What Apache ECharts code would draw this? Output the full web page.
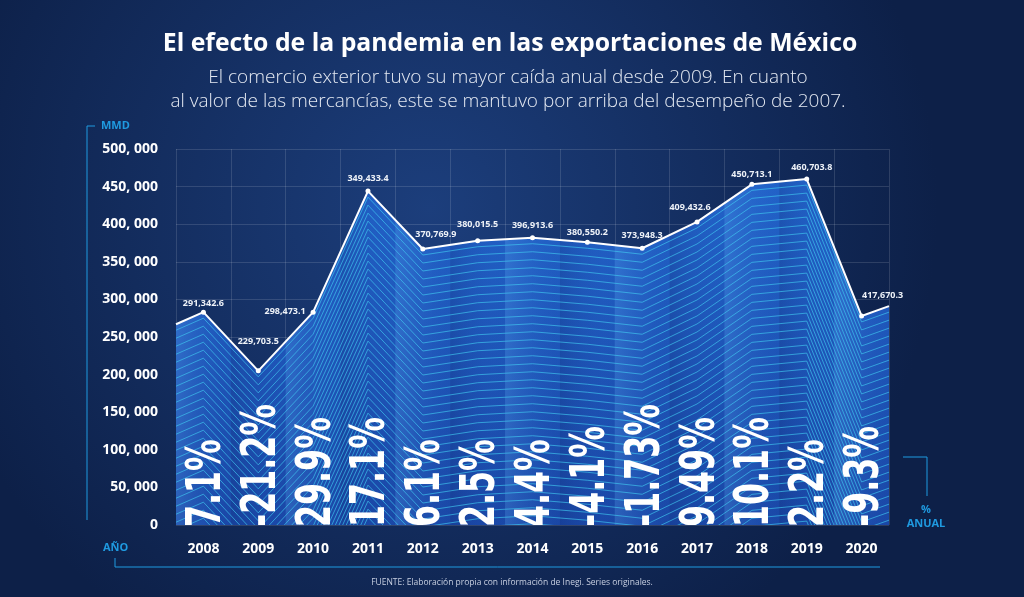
<!DOCTYPE html>
<html>
<head>
<meta charset="utf-8">
<script src="https://cdn.jsdelivr.net/npm/echarts@6/dist/echarts.min.js"></script>
<style>
html,body{margin:0;padding:0;background:#132b5e;}
#chart{width:1024px;height:597px;}
</style>
</head>
<body>
<div id="chart"></div>
<script>
// ---- data ----
const years = ['2008','2009','2010','2011','2012','2013','2014','2015','2016','2017','2018','2019','2020'];
// plotted level of the line (as drawn in the picture)
const exportLevels = [283000, 205000, 283000, 444000, 367000, 378000, 382000, 376000, 368000, 403000, 453000, 460000, 278000];
// where the line meets the left and right edges of the plot
const edgeLevels = [267000, 291000];
// value labels printed next to each point (MMD)
const valueLabels = ['291,342.6','229,703.5','298,473.1','349,433.4','370,769.9','380,015.5','396,913.6','380,550.2','373,948.3','409,432.6','450,713.1','460,703.8','417,670.3'];
// annual % change printed vertically in each column
const annualPct = ['7.1%','-21.2%','29.9%','17.1%','6.1%','2.5%','4.4%','-4.1%','-1.73%','9.49%','10.1%','2.2%','-9.3%'];
const yMin = 0, yMax = 500000, yStep = 50000;

// ---- styling (not data) ----
const labelOffsets = [[0,3],[0,-17],[-28,11],[0,-1],[13,-3],[0,-4],[0,0],[0,2],[0,-1],[-7,-3],[0,2],[5,0],[21,-9]];
const cyan = '#1f9ae0';
const linePoints = [[-0.5, edgeLevels[0]]]
  .concat(years.map((y, i) => [i, exportLevels[i]]))
  .concat([[years.length - 0.5, edgeLevels[1]]]);

const chart = echarts.init(document.getElementById('chart'), null, {renderer: 'canvas'});

function stripes(params, api) {
  if (params.dataIndex !== 0) return null;
  const pts = linePoints.map(d => api.coord(d));
  const base = api.coord([0, 0])[1];
  const children = [];
  const mid = (a, b) => [(a[0] + b[0]) / 2, (a[1] + b[1]) / 2];
  for (let i = 0; i < years.length; i++) {
    const L = i === 0 ? pts[0] : mid(pts[i], pts[i + 1]);
    const R = i === years.length - 1 ? pts[pts.length - 1] : mid(pts[i + 1], pts[i + 2]);
    const strong = i % 2 === 0;
    children.push({
      type: 'polygon',
      silent: true,
      shape: {points: [L, pts[i + 1], R, [R[0], base], [L[0], base]]},
      style: {
        fill: new echarts.graphic.LinearGradient(0, 0, 1, 0, [
          {offset: 0, color: strong ? 'rgba(110,190,255,0.22)' : 'rgba(10,30,90,0.18)'},
          {offset: 1, color: 'rgba(40,110,220,0.0)'}
        ])
      }
    });
  }
  for (let k = 0; k < 48; k++) {
    const dy = 6 + k * 8;
    children.push({
      type: 'polyline',
      silent: true,
      shape: {points: pts.map(p => [p[0], p[1] + dy])},
      style: {stroke: 'rgba(64,200,240,0.66)', lineWidth: 1, fill: null}
    });
  }
  return {type: 'group', children: children};
}

function pctText(params, api) {
  const p = api.coord([api.value(0), api.value(1)]);
  return {
    type: 'text',
    silent: true,
    x: p[0] + 4,
    y: p[1] + 2,
    rotation: Math.PI / 2,
    scaleX: 0.66,
    scaleY: 1,
    style: {
      text: annualPct[params.dataIndex],
      fill: '#ffffff',
      font: "bold 48px 'DejaVu Sans', sans-serif",
      align: 'left',
      verticalAlign: 'middle'
    }
  };
}

const option = {
  backgroundColor: {
    type: 'radial', x: 0.42, y: 0.35, r: 0.85,
    colorStops: [{offset: 0, color: '#1c3e7c'}, {offset: 1, color: '#0d2048'}]
  },
  animation: false,
  grid: {left: 176, right: 135, top: 149, bottom: 72},
  xAxis: [
    {
      type: 'category',
      data: years,
      boundaryGap: true,
      axisLine: {show: false},
      axisTick: {show: false},
      axisLabel: {color: '#ffffff', fontSize: 14, fontWeight: 'bold', fontFamily: 'Open Sans', margin: 17},
      splitLine: {show: true, lineStyle: {color: 'rgba(255,255,255,0.13)', width: 1}}
    },
    {
      type: 'value',
      min: -0.5, max: years.length - 0.5,
      show: false
    }
  ],
  yAxis: {
    type: 'value',
    min: yMin, max: yMax, interval: yStep,
    axisLine: {show: false},
    axisTick: {show: false},
    axisLabel: {
      color: '#ffffff', fontSize: 14, fontWeight: 'bold', fontFamily: 'Open Sans', margin: 18,
      formatter: v => v === 0 ? '0' : (v / 1000) + ', 000'
    },
    splitLine: {lineStyle: {color: 'rgba(255,255,255,0.13)', width: 1}}
  },
  series: [
    {
      type: 'line',
      xAxisIndex: 1,
      data: linePoints,
      symbol: 'none',
      lineStyle: {width: 0},
      areaStyle: {
        color: new echarts.graphic.LinearGradient(0, 0, 0, 1, [
          {offset: 0, color: '#2262c8'},
          {offset: 1, color: '#1a47a6'}
        ]),
        opacity: 1
      },
      z: 1
    },
    {
      type: 'custom',
      xAxisIndex: 1,
      renderItem: stripes,
      data: linePoints,
      clip: true,
      z: 2
    },
    {
      type: 'custom',
      xAxisIndex: 1,
      renderItem: pctText,
      data: years.map((y, i) => [i, 0]),
      clip: true,
      z: 3
    },
    {
      type: 'line',
      xAxisIndex: 1,
      data: linePoints.map((p, j) => {
        const i = j - 1;
        if (i < 0 || i >= years.length) return {value: p, symbol: 'none', label: {show: false}};
        return {
          value: p,
          label: {show: true, formatter: valueLabels[i], offset: labelOffsets[i]}
        };
      }),
      symbol: 'circle',
      symbolSize: 5,
      itemStyle: {color: '#ffffff'},
      lineStyle: {color: '#ffffff', width: 2},
      label: {
        show: true, position: 'top', distance: 5,
        color: '#eef2f8', fontSize: 9, fontWeight: 'bold', fontFamily: 'Open Sans'
      },
      z: 4
    }
  ],
  graphic: [
    {type: 'text', x: 510, y: 31, style: {text: 'El efecto de la pandemia en las exportaciones de México', fill: '#ffffff', font: 'bold 24.8px "Open Sans", sans-serif', align: 'center'}},
    {type: 'text', x: 508, y: 66, style: {text: 'El comercio exterior tuvo su mayor caída anual desde 2009. En cuanto\nal valor de las mercancías, este se mantuvo por arriba del desempeño de 2007.', fill: '#e4e9f2', font: '300 19px "Open Sans", sans-serif', align: 'center', lineHeight: 24}},
    {type: 'text', left: 101, top: 120, style: {text: 'MMD', fill: cyan, font: 'bold 11px "Open Sans", sans-serif'}},
    {type: 'line', shape: {x1: 87, y1: 126, x2: 95, y2: 126}, style: {stroke: cyan, lineWidth: 1}},
    {type: 'line', shape: {x1: 87, y1: 126, x2: 87, y2: 520}, style: {stroke: cyan, lineWidth: 1}},
    {type: 'text', left: 103, top: 542, style: {text: 'AÑO', fill: cyan, font: 'bold 11px "Open Sans", sans-serif'}},
    {type: 'polyline', shape: {points: [[115, 558], [115, 567], [880, 567]]}, style: {stroke: cyan, lineWidth: 1, fill: null}},
    {type: 'polyline', shape: {points: [[903, 457], [927, 457], [927, 496]]}, style: {stroke: cyan, lineWidth: 1, fill: null}},
    {type: 'text', x: 926, y: 503, style: {text: '%\nANUAL', fill: cyan, font: 'bold 11px "Open Sans", sans-serif', align: 'center', lineHeight: 14}},
    {type: 'text', left: 'center', top: 578, style: {text: 'FUENTE: Elaboración propia con información de Inegi. Series originales.', fill: '#c6cee0', font: '8.5px "Open Sans", sans-serif'}}
  ]
};
chart.setOption(option);
</script>
</body>
</html>
